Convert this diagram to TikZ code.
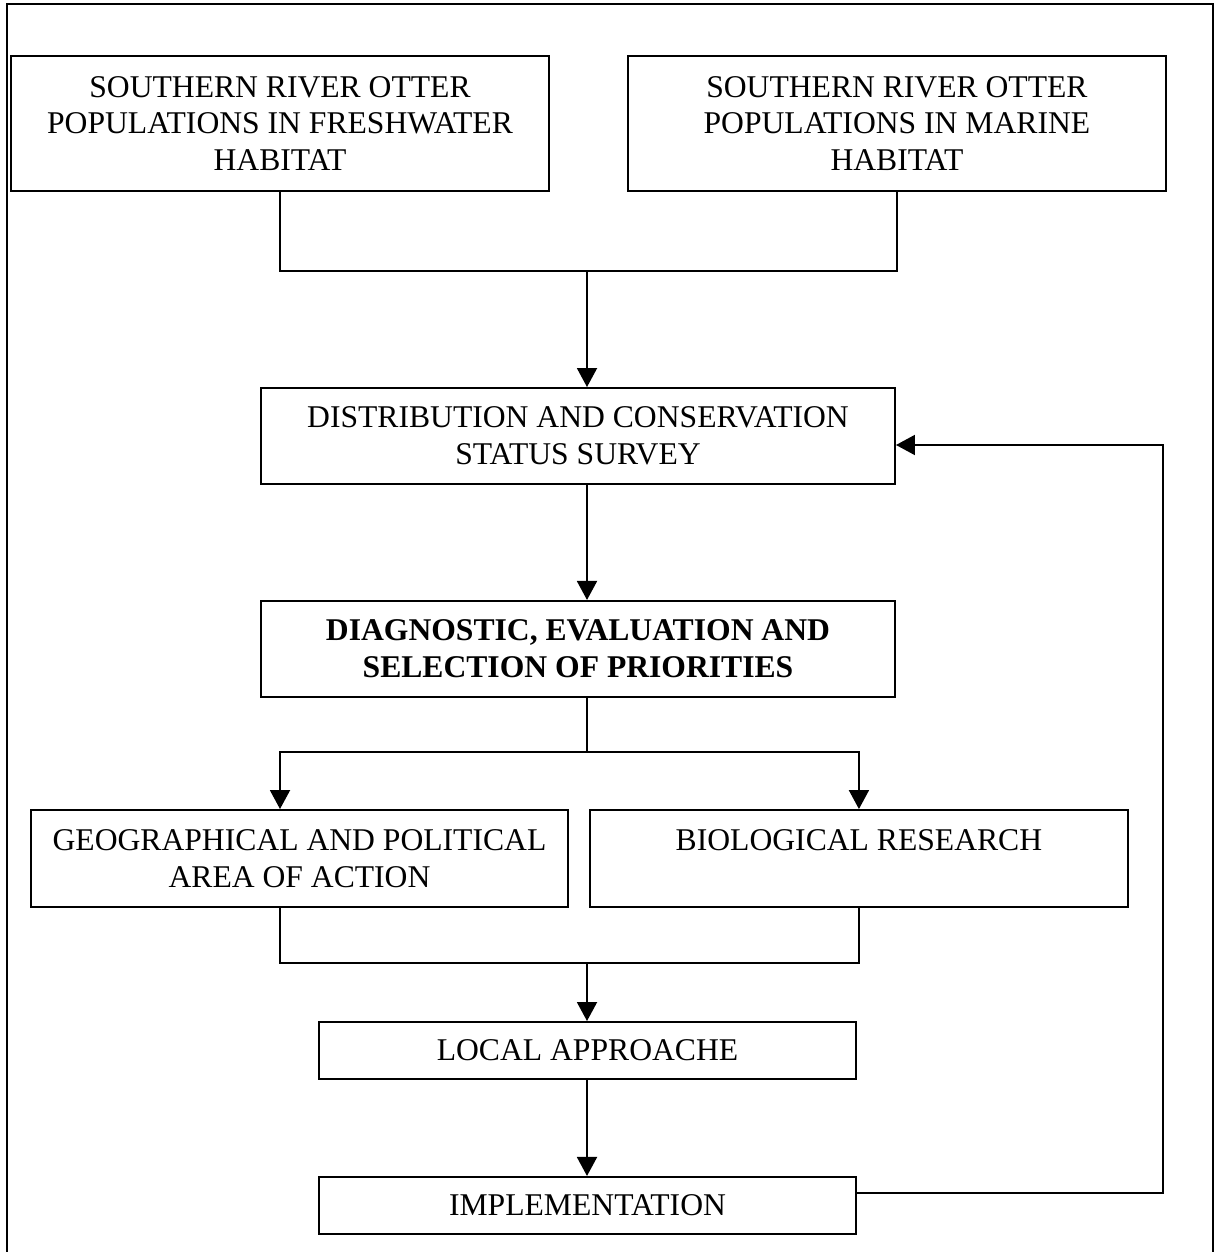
\documentclass[tikz,border=0pt]{standalone}
\usepackage{fontspec}
\setmainfont{Liberation Serif}
\usetikzlibrary{positioning}
\usetikzlibrary{calc}
\usetikzlibrary{arrows.meta}

\begin{document}
\begin{tikzpicture}[
  box/.style={draw, align=center, inner sep=0pt, font=\fontsize{18}{21}\selectfont},
  >={Triangle[length=3.8mm,width=4mm]},
  line width=1.1pt
]
  \useasboundingbox (0,0) rectangle (24.34,-25.04);
  \draw[line width=.9pt] (0.14,-25.3) -- (0.14,-0.08) -- (24.26,-0.08) -- (24.26,-25.3);

  \node[box, minimum width=10.76cm, minimum height=2.7cm] (Fresh) at (5.6,-2.47) {SOUTHERN RIVER OTTER\\POPULATIONS IN FRESHWATER\\HABITAT};
  \node[box, minimum width=10.76cm, minimum height=2.7cm] (Marine) [right=1.54cm of Fresh] {SOUTHERN RIVER OTTER\\POPULATIONS IN MARINE\\HABITAT};

  \node[box, minimum width=12.68cm, minimum height=1.92cm] (Survey) at (11.56,-8.72) {DISTRIBUTION AND CONSERVATION\\STATUS SURVEY};
  \node[box, minimum width=12.68cm, minimum height=1.92cm] (Diag) [below=2.3cm of Survey] {\bfseries DIAGNOSTIC, EVALUATION AND\\\bfseries SELECTION OF PRIORITIES};

  \node[box, minimum width=10.74cm, minimum height=1.94cm] (Geo) at (5.99,-17.17) {GEOGRAPHICAL AND POLITICAL\\AREA OF ACTION};
  \node[box, minimum width=10.76cm, minimum height=1.94cm] (Bio) [right=0.4cm of Geo] {BIOLOGICAL RESEARCH\\\phantom{A}};

  \node[box, minimum width=10.74cm, minimum height=1.14cm] (Local) at (11.75,-21.01) {LOCAL APPROACHE};
  \node[box, minimum width=10.74cm, minimum height=1.14cm] (Impl) [below=1.92cm of Local] {IMPLEMENTATION};

  % junctions
  \coordinate (j1) at (11.74,-5.42);
  \coordinate (j2) at (11.74,-15.04);
  \coordinate (j3) at (11.74,-19.26);
  \coordinate (fb1) at (23.26,-23.86);
  \coordinate (fb2) at (23.26,-8.9);

  \draw (Fresh.south) |- (j1) -| (Marine.south);
  \draw[->] (j1) -- (j1 |- Survey.north);
  \draw[->] (Survey.south -| j1) -- (Diag.north -| j1);

  \draw (Diag.south -| j2) -- (j2);
  \draw[->] (j2) -| (Geo.north -| Fresh.south);
  \draw[->] (j2) -| (Bio.north);

  \draw (Geo.south -| Fresh.south) |- (j3) -| (Bio.south);
  \draw[->] (j3) -- (j3 |- Local.north);
  \draw[->] (Local.south -| j3) -- (Impl.north -| j3);

  % feedback
  \draw[->] (Impl.east |- fb1) -- (fb1) -- (fb2) -- (Survey.east |- fb2);
\end{tikzpicture}
\end{document}
